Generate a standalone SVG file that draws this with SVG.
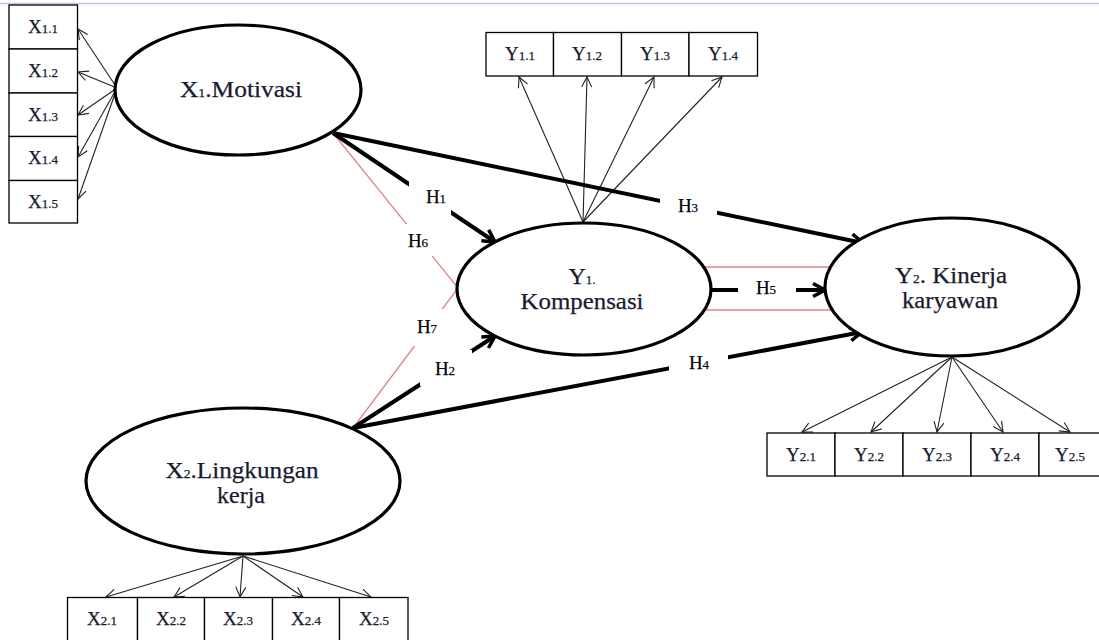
<svg xmlns="http://www.w3.org/2000/svg" width="1099" height="640" viewBox="0 0 1099 640">
<style>
.box{fill:#fff;stroke:#000;stroke-width:1.3}
.ell{fill:#fff;stroke:#000;stroke-width:3.2}
.thin{stroke:#222;stroke-width:1.1;fill:none}
.thick{stroke:#000;stroke-width:4;fill:none}
.red{stroke:#d98a86;stroke-width:1.3;fill:none}
text{font-family:'Liberation Serif','Times New Roman',Tinos,'DejaVu Serif',serif;stroke:#1a1a2e;stroke-width:0.25}
.bt{font-size:19px;fill:#1a1a2e;text-anchor:middle}
.lt{font-size:24px;fill:#1a1a2e;text-anchor:middle}
.ht{font-size:19px;fill:#000;text-anchor:middle}
.s{font-size:13px}
.gap{fill:#fff}
</style>
<defs>
<marker id="ah" viewBox="0 0 16 16" refX="14" refY="8" markerWidth="16" markerHeight="16" markerUnits="userSpaceOnUse" orient="auto">
<path d="M2,1.5 L14,8 L2,14.5" fill="none" stroke="#000" stroke-width="3.5"/>
</marker>
<marker id="at" viewBox="0 0 12 12" refX="11" refY="6" markerWidth="12" markerHeight="12" markerUnits="userSpaceOnUse" orient="auto">
<path d="M1,1 L11,6 L1,11" fill="none" stroke="#222" stroke-width="1.1"/>
</marker>
</defs>
<rect width="1099" height="640" fill="#fff"/>
<line x1="0" y1="3.5" x2="1099" y2="3.5" stroke="#b9c9e0" stroke-width="1.5"/>

<g id="connectors">
<line class="thin" x1="117" y1="88" x2="78" y2="29" marker-end="url(#at)"/>
<line class="thin" x1="117" y1="88" x2="78" y2="72" marker-end="url(#at)"/>
<line class="thin" x1="117" y1="88" x2="78" y2="115" marker-end="url(#at)"/>
<line class="thin" x1="117" y1="88" x2="78" y2="157" marker-end="url(#at)"/>
<line class="thin" x1="117" y1="88" x2="78" y2="199" marker-end="url(#at)"/>
<line class="thin" x1="583" y1="222" x2="519" y2="77" marker-end="url(#at)"/>
<line class="thin" x1="583" y1="222" x2="587" y2="77" marker-end="url(#at)"/>
<line class="thin" x1="583" y1="222" x2="654" y2="77" marker-end="url(#at)"/>
<line class="thin" x1="583" y1="222" x2="722" y2="77" marker-end="url(#at)"/>
<line class="thin" x1="952" y1="357" x2="802" y2="432" marker-end="url(#at)"/>
<line class="thin" x1="952" y1="357" x2="871" y2="432" marker-end="url(#at)"/>
<line class="thin" x1="952" y1="357" x2="937" y2="432" marker-end="url(#at)"/>
<line class="thin" x1="952" y1="357" x2="1003" y2="432" marker-end="url(#at)"/>
<line class="thin" x1="952" y1="357" x2="1070" y2="432" marker-end="url(#at)"/>
<line class="thin" x1="243" y1="556" x2="106" y2="597" marker-end="url(#at)"/>
<line class="thin" x1="243" y1="556" x2="174" y2="597" marker-end="url(#at)"/>
<line class="thin" x1="243" y1="556" x2="240" y2="597" marker-end="url(#at)"/>
<line class="thin" x1="243" y1="556" x2="303" y2="597" marker-end="url(#at)"/>
<line class="thin" x1="243" y1="556" x2="371" y2="597" marker-end="url(#at)"/>
<line class="red" x1="333" y1="133" x2="458" y2="288"/>
<line class="red" x1="353" y1="428" x2="458" y2="288"/>
<line class="red" x1="700" y1="267" x2="836" y2="267"/>
<line class="red" x1="700" y1="310" x2="836" y2="310"/>
<line class="thick" x1="333" y1="133" x2="495" y2="242" marker-end="url(#ah)"/>
<line class="thick" x1="333" y1="133" x2="863" y2="243" marker-end="url(#ah)"/>
<line class="thick" x1="353" y1="428" x2="495" y2="336" marker-end="url(#ah)"/>
<line class="thick" x1="353" y1="428" x2="862" y2="332" marker-end="url(#ah)"/>
<line class="thick" x1="711" y1="290" x2="825" y2="290" marker-end="url(#ah)"/>
<rect class="gap" x="409" y="182" width="42" height="34"/>
<text class="ht" x="436" y="203">H<tspan class="s">1</tspan></text>
<rect class="gap" x="401" y="224" width="35" height="32"/>
<text class="ht" x="418" y="247">H<tspan class="s">6</tspan></text>
<rect class="gap" x="660" y="195" width="57" height="23"/>
<text class="ht" x="688" y="212">H<tspan class="s">3</tspan></text>
<rect class="gap" x="413" y="309" width="32" height="37"/>
<text class="ht" x="427" y="333">H<tspan class="s">7</tspan></text>
<rect class="gap" x="420" y="350" width="52" height="36"/>
<text class="ht" x="445" y="375">H<tspan class="s">2</tspan></text>
<rect class="gap" x="669" y="353" width="59" height="25"/>
<text class="ht" x="699" y="369">H<tspan class="s">4</tspan></text>
<rect class="gap" x="738" y="280" width="58" height="20"/>
<text class="ht" x="766" y="294">H<tspan class="s">5</tspan></text>
</g>

<g id="x1-indicators">
<rect class="box" x="9" y="5" width="68.5" height="44"/>
<rect class="box" x="9" y="49" width="68.5" height="44"/>
<rect class="box" x="9" y="93" width="68.5" height="43.5"/>
<rect class="box" x="9" y="136.5" width="68.5" height="44"/>
<rect class="box" x="9" y="180.5" width="68.5" height="42.5"/>
<text class="bt" x="43" y="33">X<tspan class="s">1.1</tspan></text>
<text class="bt" x="43" y="77">X<tspan class="s">1.2</tspan></text>
<text class="bt" x="43" y="121">X<tspan class="s">1.3</tspan></text>
<text class="bt" x="43" y="164">X<tspan class="s">1.4</tspan></text>
<text class="bt" x="43" y="208">X<tspan class="s">1.5</tspan></text>
</g>

<g id="x1-motivasi">
<ellipse class="ell" cx="238" cy="90" rx="123" ry="65"/>
<text class="lt" x="241" y="97" textLength="122" lengthAdjust="spacingAndGlyphs">X<tspan class="s" font-size="15px">1</tspan>.Motivasi</text>
</g>

<g id="y1-indicators">
<rect class="box" x="486" y="32.5" width="67.5" height="43.5"/>
<rect class="box" x="553.5" y="32.5" width="68" height="43.5"/>
<rect class="box" x="621.5" y="32.5" width="67.5" height="43.5"/>
<rect class="box" x="689" y="32.5" width="68.5" height="43.5"/>
<text class="bt" x="520" y="60">Y<tspan class="s">1.1</tspan></text>
<text class="bt" x="587" y="60">Y<tspan class="s">1.2</tspan></text>
<text class="bt" x="655" y="60">Y<tspan class="s">1.3</tspan></text>
<text class="bt" x="723" y="60">Y<tspan class="s">1.4</tspan></text>
</g>

<g id="y1-kompensasi">
<ellipse class="ell" cx="584" cy="289" rx="127" ry="66"/>
<text class="lt" x="582" y="284">Y<tspan class="s" font-size="15px">1.</tspan></text>
<text class="lt" x="582" y="309" textLength="123" lengthAdjust="spacingAndGlyphs">Kompensasi</text>
</g>

<g id="y2-kinerja">
<ellipse class="ell" cx="952" cy="287" rx="127" ry="69"/>
<text class="lt" x="951" y="283" textLength="112" lengthAdjust="spacingAndGlyphs">Y<tspan class="s" font-size="15px">2</tspan>. Kinerja</text>
<text class="lt" x="950" y="308" textLength="96" lengthAdjust="spacingAndGlyphs">karyawan</text>
</g>

<g id="y2-indicators">
<rect class="box" x="767" y="433" width="68" height="43"/>
<rect class="box" x="835" y="433" width="68" height="43"/>
<rect class="box" x="903" y="433" width="68" height="43"/>
<rect class="box" x="971" y="433" width="68" height="43"/>
<rect class="box" x="1039" y="433" width="68" height="43"/>
<text class="bt" x="801" y="461">Y<tspan class="s">2.1</tspan></text>
<text class="bt" x="869" y="461">Y<tspan class="s">2.2</tspan></text>
<text class="bt" x="937" y="461">Y<tspan class="s">2.3</tspan></text>
<text class="bt" x="1005" y="461">Y<tspan class="s">2.4</tspan></text>
<text class="bt" x="1070" y="461">Y<tspan class="s">2.5</tspan></text>
</g>

<g id="x2-lingkungan">
<ellipse class="ell" cx="243" cy="481" rx="157" ry="73"/>
<text class="lt" x="242" y="478" textLength="153" lengthAdjust="spacingAndGlyphs">X<tspan class="s" font-size="15px">2</tspan>.Lingkungan</text>
<text class="lt" x="241" y="503" textLength="48" lengthAdjust="spacingAndGlyphs">kerja</text>
</g>

<g id="x2-indicators">
<rect class="box" x="67.5" y="597.5" width="70" height="44"/>
<rect class="box" x="137.5" y="597.5" width="67" height="44"/>
<rect class="box" x="204.5" y="597.5" width="68" height="44"/>
<rect class="box" x="272.5" y="597.5" width="67" height="44"/>
<rect class="box" x="339.5" y="597.5" width="68.5" height="44"/>
<text class="bt" x="102" y="625">X<tspan class="s">2.1</tspan></text>
<text class="bt" x="171" y="625">X<tspan class="s">2.2</tspan></text>
<text class="bt" x="238" y="625">X<tspan class="s">2.3</tspan></text>
<text class="bt" x="306" y="625">X<tspan class="s">2.4</tspan></text>
<text class="bt" x="374" y="625">X<tspan class="s">2.5</tspan></text>
</g>
</svg>
